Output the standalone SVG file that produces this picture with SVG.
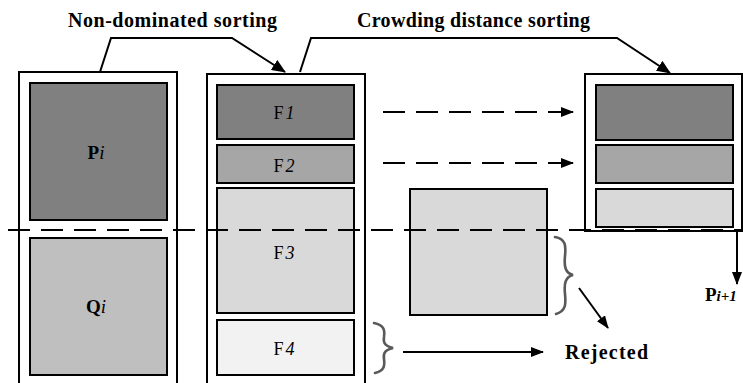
<svg xmlns="http://www.w3.org/2000/svg" width="743" height="383" viewBox="0 0 743 383" font-family="'Liberation Serif', 'Times New Roman', Times, serif">
  <style>
    .frame { fill: #ffffff; stroke: #000000; stroke-width: 2; }
    .blk { stroke: #000000; stroke-width: 2; }
    .d1 { fill: #808080; }
    .d2 { fill: #a6a6a6; }
    .d3 { fill: #d9d9d9; }
    .d4 { fill: #f2f2f2; }
    .dq { fill: #bfbfbf; }
    text { font-family: 'Liberation Serif', 'Times New Roman', Times, serif; fill: #000000; }
    .title { font-weight: bold; font-size: 20px; }
    .wire { fill: none; stroke: #000000; stroke-width: 2; }
    .dash { fill: none; stroke: #000000; stroke-width: 2; stroke-dasharray: 22 11; }
    .brace { fill: none; stroke: #595959; stroke-width: 2.6; stroke-linecap: round; }
  </style>
  <defs>
    <marker id="head" markerWidth="14" markerHeight="12" refX="13" refY="6" orient="auto" markerUnits="userSpaceOnUse">
      <path d="M0,0 L14,6 L0,12 Z" fill="#000000"/>
    </marker>
    <marker id="headS" markerWidth="13" markerHeight="10" refX="12" refY="5" orient="auto" markerUnits="userSpaceOnUse">
      <path d="M0,0 L13,5 L0,10 Z" fill="#000000"/>
    </marker>
  </defs>

  <rect width="743" height="383" fill="#ffffff"/>

  <!-- titles -->
  <text class="title" x="68" y="27" textLength="209" lengthAdjust="spacing">Non-dominated sorting</text>
  <text class="title" x="357" y="27" textLength="233" lengthAdjust="spacing">Crowding distance sorting</text>

  <!-- combined population P_i + Q_i -->
  <g id="population">
    <rect class="frame" x="19" y="72" width="158" height="330"/>
    <g id="p-i">
      <rect class="blk d1" x="30" y="83" width="137" height="137"/>
      <text x="96" y="159" font-size="19" text-anchor="middle"><tspan font-weight="bold">P</tspan><tspan font-style="italic">i</tspan></text>
    </g>
    <g id="q-i">
      <rect class="blk dq" x="30" y="238" width="137" height="137"/>
      <text x="96" y="313" font-size="19" text-anchor="middle"><tspan font-weight="bold">Q</tspan><tspan font-style="italic">i</tspan></text>
    </g>
  </g>

  <!-- fronts after non-dominated sorting -->
  <g id="fronts">
    <rect class="frame" x="207" y="74" width="158" height="330"/>
    <g id="f1">
      <rect class="blk d1" x="217" y="85" width="137" height="54"/>
      <text x="284" y="119" font-size="18" text-anchor="middle">F<tspan dx="2" font-style="italic">1</tspan></text>
    </g>
    <g id="f2">
      <rect class="blk d2" x="217" y="145" width="137" height="38"/>
      <text x="284" y="172" font-size="18" text-anchor="middle">F<tspan dx="2" font-style="italic">2</tspan></text>
    </g>
    <g id="f3">
      <rect class="blk d3" x="217" y="188" width="137" height="125"/>
      <text x="284" y="259" font-size="18" text-anchor="middle">F<tspan dx="2" font-style="italic">3</tspan></text>
    </g>
    <g id="f4">
      <rect class="blk d4" x="217" y="320" width="137" height="55"/>
      <text x="284" y="355" font-size="18" text-anchor="middle">F<tspan dx="2" font-style="italic">4</tspan></text>
    </g>
  </g>

  <!-- part of F3 sorted by crowding distance -->
  <g id="f3-split">
    <rect class="blk d3" x="410" y="189" width="137" height="126"/>
  </g>

  <!-- next population P_i+1 -->
  <g id="next-population">
    <rect class="frame" x="585" y="74" width="157" height="157"/>
    <rect class="blk d1" x="596" y="85" width="137" height="55"/>
    <rect class="blk d2" x="596" y="145" width="137" height="38"/>
    <rect class="blk d3" x="596" y="189" width="137" height="38"/>
  </g>

  <!-- braces -->
  <g id="braces">
    <path class="brace" d="M555,237 C566,239 566,246 565,256 C564,266 565,273 573,275 C565,277 564,284 565,294 C566,304 566,311 556,314"/>
    <path class="brace" d="M374,323 C384,325 385,330 384,337 C383,343 385,346 393,348 C385,350 383,353 384,359 C385,366 384,371 375,373"/>
  </g>

  <!-- connectors -->
  <g id="connectors">
    <path class="wire" d="M100,72 L111,38 L232,38 L285,72" marker-end="url(#head)"/>
    <path class="wire" d="M300,72 L311,38 L617,38 L670,73" marker-end="url(#head)"/>
    <path class="dash" d="M383,112 L560,112"/>
    <line class="wire" x1="558" y1="112" x2="573" y2="112" marker-end="url(#headS)"/>
    <path class="dash" d="M383,163 L560,163"/>
    <line class="wire" x1="558" y1="163" x2="573" y2="163" marker-end="url(#headS)"/>
    <line class="wire" x1="579" y1="288" x2="608" y2="328" marker-end="url(#headS)"/>
    <line class="wire" x1="403" y1="352" x2="543" y2="352" marker-end="url(#headS)"/>
    <line class="wire" x1="737" y1="230" x2="737" y2="284" marker-end="url(#headS)"/>
    <path class="dash" d="M8,230 L743,230"/>
  </g>

  <text x="565" y="359" font-size="20" font-weight="bold" textLength="83" lengthAdjust="spacing">Rejected</text>
  <text x="705" y="301" font-size="19" font-weight="bold">P<tspan font-style="italic" font-size="15">i+1</tspan></text>
</svg>
